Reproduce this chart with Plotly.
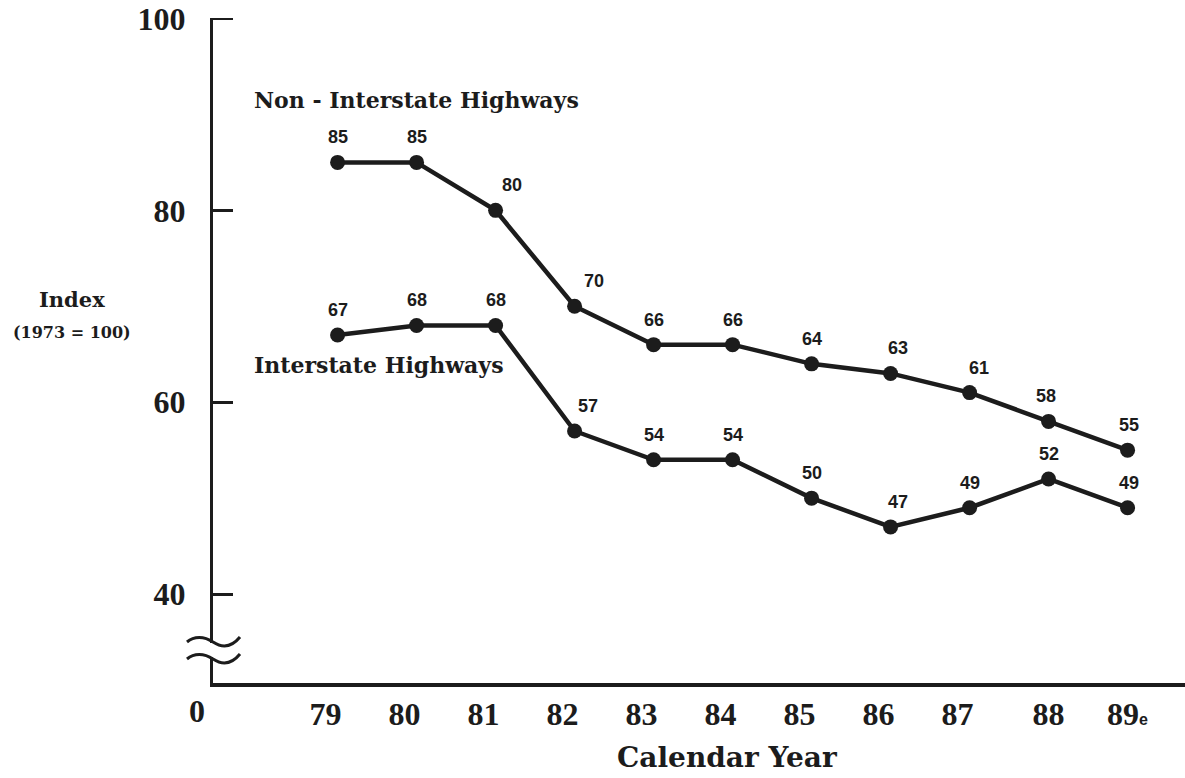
import plotly.graph_objects as go

# ---- data ----
years = [79, 80, 81, 82, 83, 84, 85, 86, 87, 88, 89]
year_labels = ["79", "80", "81", "82", "83", "84", "85", "86", "87", "88", "89"]
year_suffix = {89: "e"}
non_interstate = [85, 85, 80, 70, 66, 66, 64, 63, 61, 58, 55]
interstate = [67, 68, 68, 57, 54, 54, 50, 47, 49, 52, 49]
y_ticks = [40, 60, 80, 100]

# ---- style ----
INK = "#1c1c1c"
W, H = 1185, 778
L, R, T, B = 213, 0, 18, 95
X_RANGE = [77.423, 89.727]
Y_RANGE = [30.73, 100.05]
non_dx = [0, 0, 16, 19, 0, 0, 0, 7, 9, -3, 1]
int_dx = [0, 0, 0, 13, 0, 0, 0, 7, 0, 0, 1]
label_pad = [3, 3, 3, 3, 3, 3, 3, 3, 3, 0, 0]   # trailing spaces: labels sit left of points


def px_x(px):
    return (px - L) / (W - L - R)


def px_y(py):
    return (H - B - py) / (H - B - T)


tick_text = []
for yr, lab, pad in zip(years, year_labels, label_pad):
    s = f"<b>{lab}</b>"
    if yr in year_suffix:
        s += ("<span style='font-size:16px;font-family:Liberation Sans'>"
              f"<b>{year_suffix[yr]}</b></span>")
    s += "&nbsp;" * pad
    tick_text.append(s)

fig = go.Figure()
for ys in (non_interstate, interstate):
    fig.add_trace(go.Scatter(
        x=years, y=ys, mode="lines+markers",
        line=dict(color=INK, width=4.5),
        marker=dict(color=INK, size=15),
        showlegend=False, hoverinfo="skip", cliponaxis=False))

ann = []
for ys, dxs in ((non_interstate, non_dx), (interstate, int_dx)):
    for x, y, dx in zip(years, ys, dxs):
        ann.append(dict(x=x, y=y, xref="x", yref="y", text=f"<b>{y}</b>", showarrow=False,
                        xshift=dx, yshift=25, yanchor="middle",
                        font=dict(family="Liberation Sans", size=18, color=INK)))

serif = "DejaVu Serif"
ann += [
    dict(x=px_x(252), y=91.5, xref="paper", yref="y", text="<b>Non - Interstate Highways</b>",
         xanchor="left", yanchor="middle", showarrow=False,
         font=dict(family=serif, size=22, color=INK)),
    dict(x=px_x(252), y=63.9, xref="paper", yref="y", text="<b>Interstate Highways</b>",
         xanchor="left", yanchor="middle", showarrow=False,
         font=dict(family=serif, size=22, color=INK)),
    dict(x=px_x(72), y=px_y(300), xref="paper", yref="paper",
         text="<b>Index</b>", showarrow=False, xanchor="center", yanchor="middle",
         font=dict(family=serif, size=21, color=INK)),
    dict(x=px_x(72), y=px_y(332), xref="paper", yref="paper",
         text="<b>(1973 = 100)</b>", showarrow=False, xanchor="center", yanchor="middle",
         font=dict(family=serif, size=16, color=INK)),
    dict(x=px_x(727), y=px_y(757), xref="paper", yref="paper",
         text="<b>Calendar Year</b>", showarrow=False, xanchor="center", yanchor="middle",
         font=dict(family=serif, size=28, color=INK)),
    dict(x=px_x(197), y=px_y(711), xref="paper", yref="paper",
         text="<b>0</b>", showarrow=False, xanchor="center", yanchor="middle",
         font=dict(family="Liberation Serif", size=32, color=INK)),
]

shapes = [
    # tick at the top of the axis (plotly drops inside ticks on the plot edge)
    dict(type="line", xref="paper", yref="y", xsizemode="pixel", xanchor=0,
         x0=0, x1=20, y0=max(y_ticks), y1=max(y_ticks),
         line=dict(color=INK, width=3), layer="above"),
    dict(type="rect", xref="paper", yref="paper", xsizemode="pixel", ysizemode="pixel",
         xanchor=0, yanchor=0, x0=-5, x1=5, y0=26, y1=40,
         fillcolor="white", line=dict(width=0), layer="above"),
    dict(type="path", xref="paper", yref="paper", xsizemode="pixel", ysizemode="pixel",
         xanchor=0, yanchor=0, path="M -26,41 C -19,47 -9,47 0,41 S 18,35 27,46",
         line=dict(color=INK, width=3), layer="above"),
    dict(type="path", xref="paper", yref="paper", xsizemode="pixel", ysizemode="pixel",
         xanchor=0, yanchor=0, path="M -26,24 C -19,30 -9,30 0,24 S 18,18 27,29",
         line=dict(color=INK, width=3), layer="above"),
]

fig.update_layout(
    width=W, height=H,
    margin=dict(l=L, r=R, t=T, b=B),
    paper_bgcolor="white", plot_bgcolor="white",
    annotations=ann, shapes=shapes,
    xaxis=dict(range=X_RANGE, tickvals=years, ticktext=tick_text,
               showgrid=False, zeroline=False, showline=True, linecolor=INK, linewidth=4,
               ticks="", ticklabelstandoff=0,
               tickfont=dict(family="Liberation Serif", size=32, color=INK)),
    yaxis=dict(range=Y_RANGE, tickvals=y_ticks, ticktext=[f"<b>{v}</b>" for v in y_ticks],
               showgrid=False, zeroline=False, showline=True, linecolor=INK, linewidth=3,
               ticks="inside", ticklen=20, tickwidth=3, tickcolor=INK,
               ticklabelstandoff=18,
               tickfont=dict(family="Liberation Serif", size=32, color=INK)),
)

fig.write_html("out.html", config={"displayModeBar": False},
               post_script="document.body.style.margin='0';")
